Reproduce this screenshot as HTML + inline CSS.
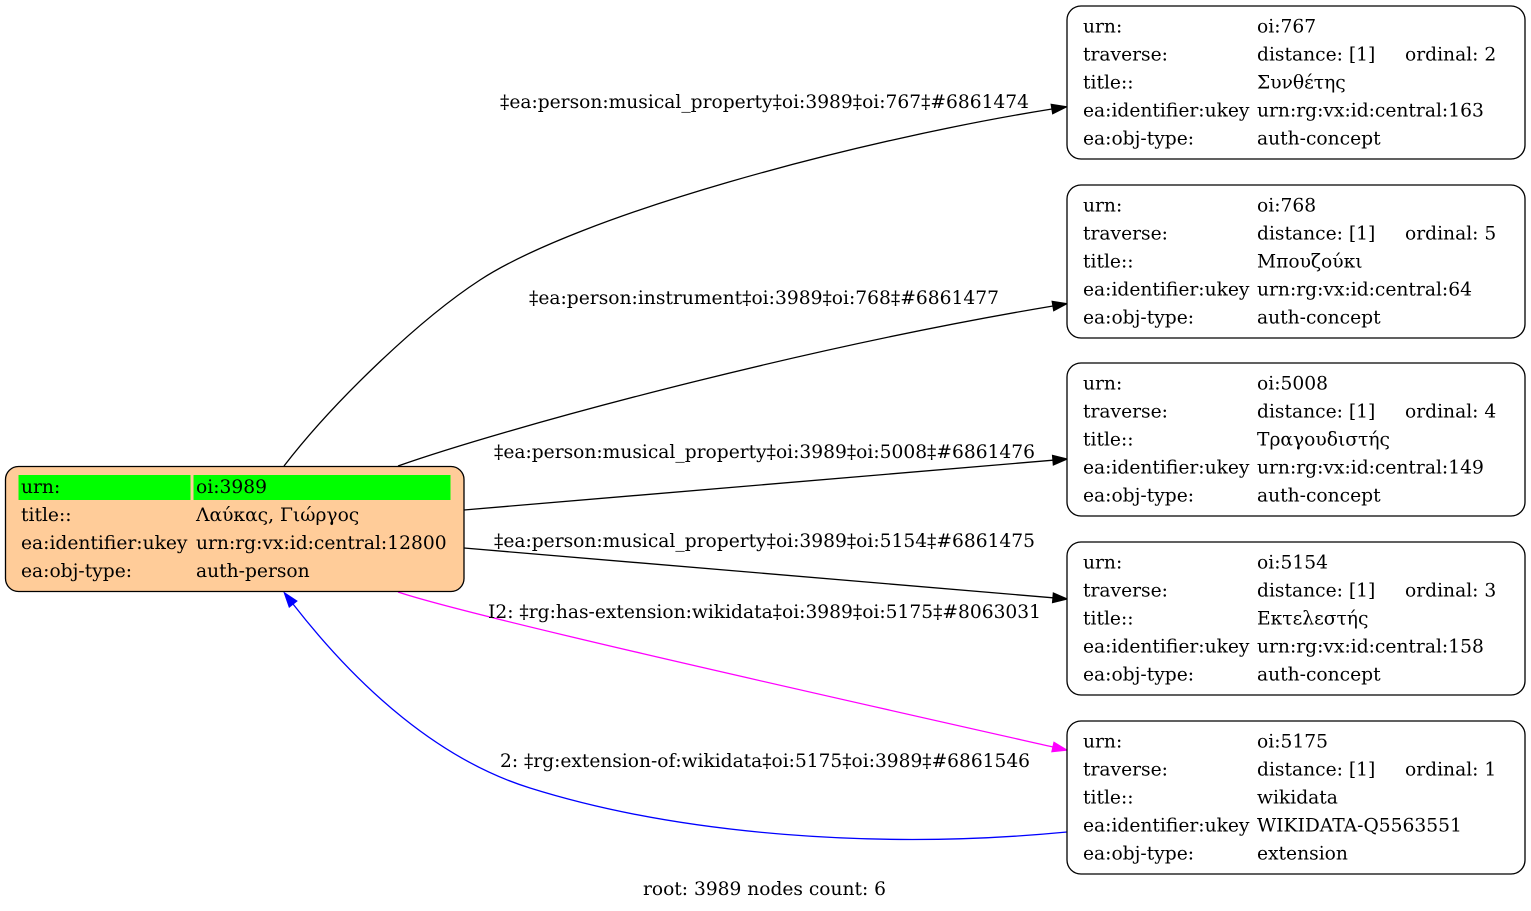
<!DOCTYPE html>
<html>
<head>
<meta charset="utf-8">
<style>
  html, body { margin: 0; padding: 0; background: #ffffff; }
  svg { display: block; }
  text { font-family: "DejaVu Serif", "Liberation Serif", "Noto Serif CJK SC", serif; font-size: 18.67px; fill: #000; }
</style>
</head>
<body>
<svg width="1531" height="911" viewBox="0 0 1531 911" xmlns="http://www.w3.org/2000/svg">
  <rect x="0" y="0" width="1531" height="911" fill="#ffffff"/>

  <!-- edge 1 -->
  <path d="M284,466 C334,401 420,319 480,280 C580,215 852,141 1052,109" fill="none" stroke="#000" stroke-width="1.3"/>
  <polygon points="1066.5,106.8 1052.75,113.6 1051.25,104.4" fill="#000" stroke="#000" stroke-width="1.3"/>
  <text x="764.5" y="108" text-anchor="middle" textLength="529" lengthAdjust="spacingAndGlyphs">‡ea:person:musical_property‡oi:3989‡oi:767‡#6861474</text>

  <!-- edge 2 -->
  <path d="M398,466 C500,430 790,350 1053,306" fill="none" stroke="#000" stroke-width="1.3"/>
  <polygon points="1066.8,303.7 1053.78,310.63 1052.22,301.37" fill="#000" stroke="#000" stroke-width="1.3"/>
  <text x="764" y="304" text-anchor="middle" textLength="470" lengthAdjust="spacingAndGlyphs">‡ea:person:instrument‡oi:3989‡oi:768‡#6861477</text>

  <!-- edge 3 -->
  <path d="M464,510 L1053,460.2" fill="none" stroke="#000" stroke-width="1.3"/>
  <polygon points="1067,459 1053.4,464.9 1052.6,455.5" fill="#000" stroke="#000" stroke-width="1.3"/>
  <text x="764.5" y="458" text-anchor="middle" textLength="541" lengthAdjust="spacingAndGlyphs">‡ea:person:musical_property‡oi:3989‡oi:5008‡#6861476</text>

  <!-- edge 4 -->
  <path d="M464,548 L1053,597.8" fill="none" stroke="#000" stroke-width="1.3"/>
  <polygon points="1067,599 1052.6,602.5 1053.4,593.1" fill="#000" stroke="#000" stroke-width="1.3"/>
  <text x="764.5" y="547" text-anchor="middle" textLength="541" lengthAdjust="spacingAndGlyphs">‡ea:person:musical_property‡oi:3989‡oi:5154‡#6861475</text>

  <!-- edge 5 magenta -->
  <path d="M398,592 C470,616 800,690 1053,747" fill="none" stroke="#ff00ff" stroke-width="1.3"/>
  <polygon points="1066.7,750.1 1051.97,751.59 1054.03,742.41" fill="#ff00ff" stroke="#ff00ff" stroke-width="1.3"/>
  <text x="764.5" y="618" text-anchor="middle" textLength="553" lengthAdjust="spacingAndGlyphs">I2: ‡rg:has-extension:wikidata‡oi:3989‡oi:5175‡#8063031</text>

  <!-- edge 6 blue -->
  <path d="M1067,832 C880,850 680,835 530,788 C440,760 360,690 293,604" fill="none" stroke="#0000ff" stroke-width="1.3"/>
  <polygon points="284.4,592.9 296.7,601.1 289.3,606.9" fill="#0000ff" stroke="#0000ff" stroke-width="1.3"/>
  <text x="765" y="767" text-anchor="middle" textLength="530" lengthAdjust="spacingAndGlyphs">2: ‡rg:extension-of:wikidata‡oi:5175‡oi:3989‡#6861546</text>

  <!-- Root node -->
  <rect x="5.5" y="466.5" width="458.5" height="125" rx="13" ry="13" fill="#ffcc99" stroke="#000" stroke-width="1.3"/>
  <rect x="18.5" y="475" width="172" height="25" fill="#00ff00"/>
  <rect x="193.5" y="475" width="257" height="25" fill="#00ff00"/>
  <text x="21" y="493">urn:</text>
  <text x="196" y="493">oi:3989</text>
  <text x="21" y="521">title::</text>
  <text x="196" y="521">Λαύκας, Γιώργος</text>
  <text x="21" y="549">ea:identifier:ukey</text>
  <text x="196" y="549">urn:rg:vx:id:central:12800</text>
  <text x="21" y="577">ea:obj-type:</text>
  <text x="196" y="577">auth-person</text>

  <!-- Node 767 -->
  <rect x="1067" y="6" width="458" height="153" rx="14" ry="14" fill="#fff" stroke="#000" stroke-width="1.3"/>
  <text x="1083" y="32.5">urn:</text><text x="1257" y="32.5">oi:767</text>
  <text x="1083" y="60.5">traverse:</text><text x="1257" y="60.5">distance: [1]</text><text x="1405" y="60.5">ordinal: 2</text>
  <text x="1083" y="88.5">title::</text><text x="1257" y="88.5">Συνθέτης</text>
  <text x="1083" y="116.5">ea:identifier:ukey</text><text x="1257" y="116.5">urn:rg:vx:id:central:163</text>
  <text x="1083" y="144.5">ea:obj-type:</text><text x="1257" y="144.5">auth-concept</text>

  <!-- Node 768 -->
  <rect x="1067" y="185" width="458" height="153" rx="14" ry="14" fill="#fff" stroke="#000" stroke-width="1.3"/>
  <text x="1083" y="211.5">urn:</text><text x="1257" y="211.5">oi:768</text>
  <text x="1083" y="239.5">traverse:</text><text x="1257" y="239.5">distance: [1]</text><text x="1405" y="239.5">ordinal: 5</text>
  <text x="1083" y="267.5">title::</text><text x="1257" y="267.5">Μπουζούκι</text>
  <text x="1083" y="295.5">ea:identifier:ukey</text><text x="1257" y="295.5">urn:rg:vx:id:central:64</text>
  <text x="1083" y="323.5">ea:obj-type:</text><text x="1257" y="323.5">auth-concept</text>

  <!-- Node 5008 -->
  <rect x="1067" y="363" width="458" height="153" rx="14" ry="14" fill="#fff" stroke="#000" stroke-width="1.3"/>
  <text x="1083" y="389.5">urn:</text><text x="1257" y="389.5">oi:5008</text>
  <text x="1083" y="417.5">traverse:</text><text x="1257" y="417.5">distance: [1]</text><text x="1405" y="417.5">ordinal: 4</text>
  <text x="1083" y="445.5">title::</text><text x="1257" y="445.5">Τραγουδιστής</text>
  <text x="1083" y="473.5">ea:identifier:ukey</text><text x="1257" y="473.5">urn:rg:vx:id:central:149</text>
  <text x="1083" y="501.5">ea:obj-type:</text><text x="1257" y="501.5">auth-concept</text>

  <!-- Node 5154 -->
  <rect x="1067" y="542" width="458" height="153" rx="14" ry="14" fill="#fff" stroke="#000" stroke-width="1.3"/>
  <text x="1083" y="568.5">urn:</text><text x="1257" y="568.5">oi:5154</text>
  <text x="1083" y="596.5">traverse:</text><text x="1257" y="596.5">distance: [1]</text><text x="1405" y="596.5">ordinal: 3</text>
  <text x="1083" y="624.5">title::</text><text x="1257" y="624.5">Εκτελεστής</text>
  <text x="1083" y="652.5">ea:identifier:ukey</text><text x="1257" y="652.5">urn:rg:vx:id:central:158</text>
  <text x="1083" y="680.5">ea:obj-type:</text><text x="1257" y="680.5">auth-concept</text>

  <!-- Node 5175 -->
  <rect x="1067" y="721" width="458" height="153" rx="14" ry="14" fill="#fff" stroke="#000" stroke-width="1.3"/>
  <text x="1083" y="747.5">urn:</text><text x="1257" y="747.5">oi:5175</text>
  <text x="1083" y="775.5">traverse:</text><text x="1257" y="775.5">distance: [1]</text><text x="1405" y="775.5">ordinal: 1</text>
  <text x="1083" y="803.5">title::</text><text x="1257" y="803.5">wikidata</text>
  <text x="1083" y="831.5">ea:identifier:ukey</text><text x="1257" y="831.5">WIKIDATA-Q5563551</text>
  <text x="1083" y="859.5">ea:obj-type:</text><text x="1257" y="859.5">extension</text>

  <!-- Footer -->
  <text x="764.5" y="895" text-anchor="middle" textLength="243" lengthAdjust="spacingAndGlyphs">root: 3989 nodes count: 6</text>
</svg>
</body>
</html>
